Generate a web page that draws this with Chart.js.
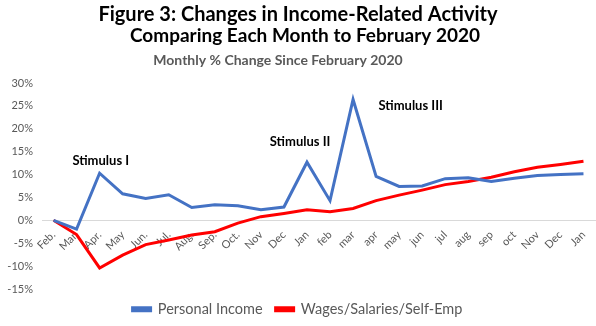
<!DOCTYPE html>
<html>
<head>
<meta charset="utf-8">
<script src="https://cdn.jsdelivr.net/npm/chart.js@4"></script>
<style>
  html, body { margin: 0; padding: 0; background: #fff; }
  #wrap { width: 596px; height: 326px; }
</style>
</head>
<body>
<div id="wrap"><canvas id="chart" width="596" height="326"></canvas></div>
<script>
const months = ['Feb.', 'Mar.', 'Apr.', 'May', 'Jun.', 'Jul.', 'Aug.', 'Sep.', 'Oct.', 'Nov', 'Dec', 'Jan',
                'feb', 'mar', 'apr', 'may', 'jun', 'jul', 'aug', 'sep', 'oct', 'Nov', 'Dec', 'Jan'];

const personalIncome = [0, -1.9, 10.3, 5.8, 4.8, 5.6, 2.8, 3.4, 3.2, 2.3, 2.9, 12.7,
                        4.3, 26.4, 9.6, 7.4, 7.5, 9.1, 9.3, 8.5, 9.2, 9.8, 10.0, 10.2];

const wages = [0, -3.1, -10.4, -7.6, -5.3, -4.3, -3.2, -2.5, -0.6, 0.8, 1.5, 2.3,
               1.9, 2.6, 4.3, 5.5, 6.6, 7.8, 8.5, 9.4, 10.6, 11.6, 12.2, 12.9];

const yTicks = [-15, -10, -5, 0, 5, 10, 15, 20, 25, 30];

// label text, category position, value position
const notes = [
  { text: 'Stimulus I', at: 2.05, value: 13.1 },
  { text: 'Stimulus II', at: 10.7, value: 17.1 },
  { text: 'Stimulus III', at: 15.5, value: 25.0 }
];

const FONT = 'Lato, "Noto Sans", sans-serif';

const headings = {
  id: 'headings',
  afterDraw(chart) {
    const c = chart.ctx;
    c.save();
    c.fillStyle = '#000';
    c.textAlign = 'center';
    c.textBaseline = 'middle';
    c.font = 'bold 20px ' + FONT;
    c.fillText('Figure 3: Changes in Income-Related Activity', 298, 15);
    c.font = 'bold 19px ' + FONT;
    c.fillText('Comparing Each Month to February 2020', 305, 36);
    c.fillStyle = '#595959';
    c.font = 'bold 14px ' + FONT;
    c.fillText('Monthly % Change Since February 2020', 278, 60);

    const x = chart.scales.x, y = chart.scales.y;
    c.fillStyle = '#000';
    c.font = 'bold 13px ' + FONT;
    notes.forEach(n => {
      c.fillText(n.text, x.getPixelForValue(n.at), y.getPixelForValue(n.value));
    });
    c.restore();
  }
};

new Chart(document.getElementById('chart'), {
  type: 'line',
  data: {
    labels: months,
    datasets: [{
      label: 'Personal Income',
      data: personalIncome,
      borderColor: '#4472C4',
      backgroundColor: '#4472C4',
      borderWidth: 3,
      pointRadius: 0,
      tension: 0
    }, {
      label: 'Wages/Salaries/Self-Emp',
      data: wages,
      borderColor: '#FF0000',
      backgroundColor: '#FF0000',
      borderWidth: 3,
      pointRadius: 0,
      tension: 0
    }]
  },
  options: {
    responsive: false,
    animation: false,
    layout: { padding: { top: 83, left: 0, right: 1, bottom: 0 } },
    scales: {
      x: {
        position: { y: 0 },
        offset: true,
        grid: { display: false },
        border: { color: '#d9d9d9', width: 1 },
        afterFit: s => { s.height = 0; },
        ticks: {
          autoSkip: false,
          minRotation: 45,
          maxRotation: 45,
          color: '#595959',
          font: { family: FONT, size: 11 },
          padding: 0
        }
      },
      y: {
        min: -15,
        max: 30,
        afterFit: s => { s.width = 42; },
        afterBuildTicks: s => { s.ticks = yTicks.map(v => ({ value: v })); },
        grid: { display: false },
        border: { display: false },
        ticks: {
          color: '#595959',
          font: { family: FONT, size: 11 },
          padding: 1,
          callback: v => v + '%'
        }
      }
    },
    plugins: {
      legend: {
        position: 'bottom',
        maxHeight: 37,
        labels: {
          boxWidth: 18,
          boxHeight: 3,
          padding: 13,
          color: '#595959',
          font: { family: FONT, size: 14.5 }
        }
      },
      tooltip: { enabled: false }
    }
  },
  plugins: [headings]
});
</script>
</body>
</html>
